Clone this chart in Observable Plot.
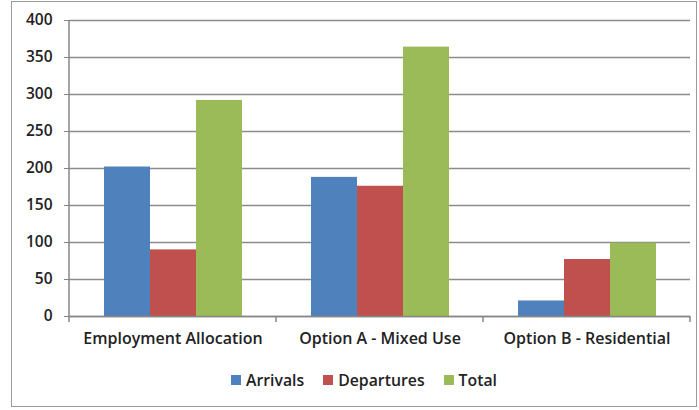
<!DOCTYPE html>
<html>
<head>
<meta charset="utf-8">
<script src="https://cdn.jsdelivr.net/npm/d3@7"></script>
<script src="https://cdn.jsdelivr.net/npm/@observablehq/plot@0.6"></script>
<style>
  body { margin: 0; background: #fff; font-family: "Open Sans", sans-serif; }
  #wrap { position: relative; width: 699px; height: 410px; overflow: hidden; }
  #border { position: absolute; left: 11px; top: 1px; width: 686px; height: 406px; border: 1.5px solid #9a9a9a; box-sizing: border-box; }
  #chart { position: absolute; left: 0; top: 0; }
  #legend { position: absolute; left: 231px; top: 369px; display: flex; font: 600 15.8px "Open Sans", sans-serif; color: #222; }
  .item { display: flex; align-items: center; margin-right: 19px; }
  .sw { width: 10px; height: 10px; margin-right: 5px; }
</style>
</head>
<body>
<div id="wrap">
  <div id="border"></div>
  <div id="chart"></div>
  <div id="legend"></div>
</div>
<script>
const categories = ["Employment Allocation", "Option A - Mixed Use", "Option B - Residential"];
const series = ["Arrivals", "Departures", "Total"];
const arrivals = [202, 188, 21];
const departures = [90, 176, 77];
const totals = [292, 364, 99];
const colors = ["#4F81BD", "#C0504D", "#9BBB59"];
const yTicks = [0, 50, 100, 150, 200, 250, 300, 350, 400];

const values = [arrivals, departures, totals];
const data = [];
categories.forEach((c, i) => series.forEach((s, j) => data.push({category: c, series: s, value: values[j][i]})));

const plot = Plot.plot({
  width: 699,
  height: 360,
  marginLeft: 69,
  marginRight: 9,
  marginTop: 20,
  marginBottom: 44,
  style: {fontFamily: "'Open Sans', sans-serif", fontSize: "14px", fontWeight: 600, color: "#222", background: "transparent"},
  fx: {domain: categories, padding: 0, label: null},
  x: {domain: series, paddingInner: 0, paddingOuter: 0.75, axis: null},
  y: {domain: [0, 400], ticks: yTicks, label: null},
  color: {domain: series, range: colors},
  marks: [
    Plot.gridY(yTicks, {stroke: "#8c8c8c", strokeOpacity: 1, strokeWidth: 1.3}),
    Plot.barY(data, {fx: "category", x: "series", y: "value", fill: "series"}),
    Plot.ruleY([0], {stroke: "#868686", strokeWidth: 1.5}),
    Plot.axisY(yTicks, {tickSize: 5, tickPadding: 12, stroke: "#868686", label: null, fontSize: 15.5}),
    Plot.axisFx({anchor: "bottom", tickSize: 0, tickPadding: 16, label: null, fontSize: 16})
  ]
});
document.getElementById("chart").appendChild(plot);

// axis lines and category boundary ticks, positioned from the plot's own scales
const fx = plot.scale("fx"), y = plot.scale("y");
const svg = d3.select(plot);
const y0 = y.apply(0), yTop = y.apply(400);
const left = fx.apply(categories[0]);
const bw = fx.bandwidth;
svg.append("line").attr("x1", left).attr("x2", left).attr("y1", yTop).attr("y2", y0)
  .attr("stroke", "#868686").attr("stroke-width", 1.5);
const edges = categories.map(c => fx.apply(c)).concat([fx.apply(categories[categories.length - 1]) + bw]);
edges.forEach(e => svg.append("line").attr("x1", e).attr("x2", e).attr("y1", y0).attr("y2", y0 + 6)
  .attr("stroke", "#868686").attr("stroke-width", 1.5));

const legend = document.getElementById("legend");
series.forEach((s, i) => {
  const it = document.createElement("div"); it.className = "item";
  const sw = document.createElement("div"); sw.className = "sw"; sw.style.background = colors[i];
  const t = document.createElement("span"); t.textContent = s;
  it.appendChild(sw); it.appendChild(t); legend.appendChild(it);
});
</script>
</body>
</html>
